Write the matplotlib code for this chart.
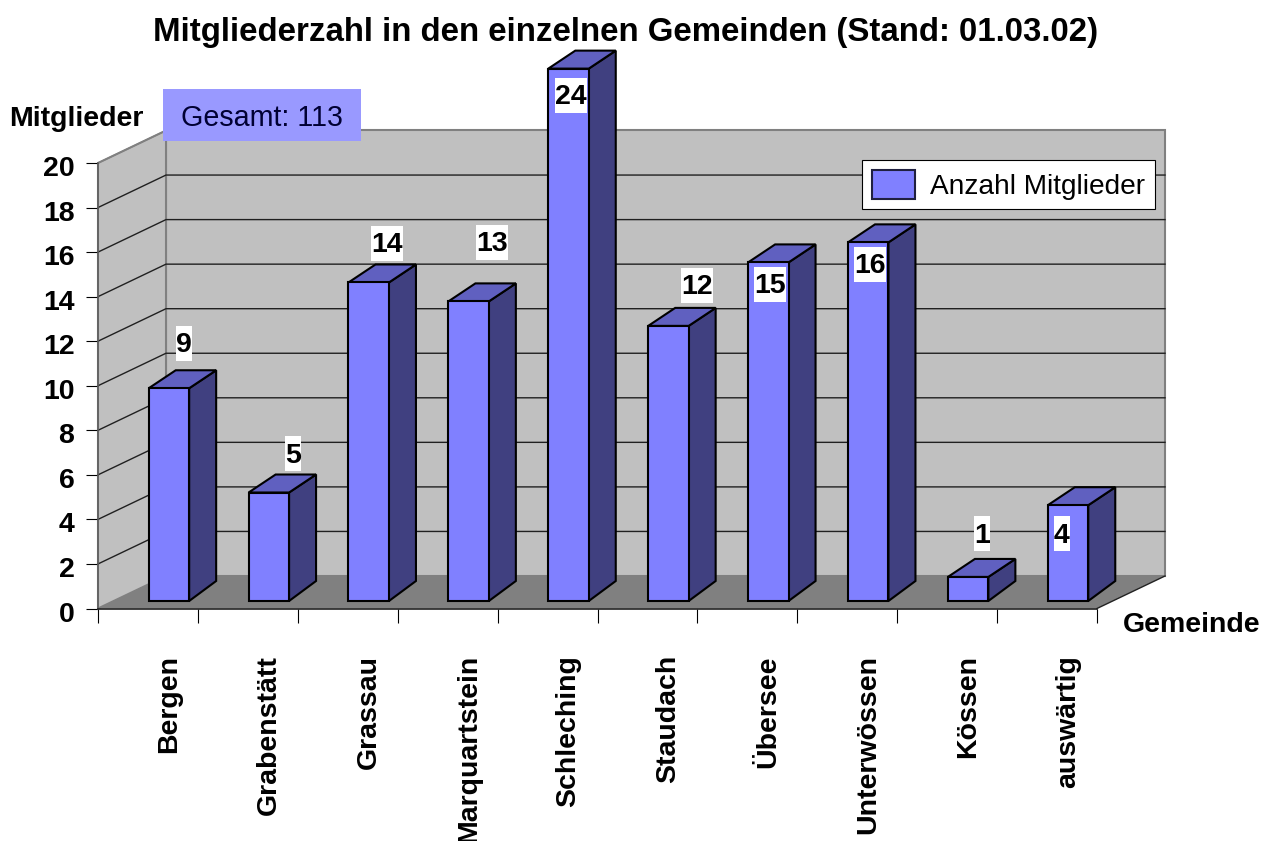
import matplotlib
matplotlib.use("Agg")
import matplotlib.pyplot as plt
from matplotlib.patches import Polygon, Rectangle, Patch
from matplotlib.transforms import Affine2D, ScaledTranslation

plt.rcParams['font.family'] = ['Liberation Sans', 'DejaVu Sans']

# ---- data ----
gemeinden = ["Bergen", "Grabenstätt", "Grassau", "Marquartstein", "Schleching",
             "Staudach", "Übersee", "Unterwössen", "Kössen", "auswärtig"]
value_labels = [9, 5, 14, 13, 24, 12, 15, 16, 1, 4]
# heights as drawn in the picture (read on the y scale)
bar_heights = [9.55, 4.87, 14.3, 13.45, 23.9, 12.35, 15.2, 16.1, 1.08, 4.3]
y_ticks = list(range(0, 21, 2))
title = "Mitgliederzahl in den einzelnen Gemeinden (Stand: 01.03.02)"
total_label = "Gesamt: 113"
series_name = "Anzahl Mitglieder"

# ---- layout ----
W, H = 1264, 841
FS = 20.5
FRONT = '#8080FF'; SIDE = '#404080'; TOP = '#6060C0'
WALL = '#C0C0C0'; FLOOR = '#808080'; BOX = '#9999FF'
fig = plt.figure(figsize=(W/100, H/100), dpi=100, facecolor='white')
ax = fig.add_axes([98/W, 1-608.5/H, 999/W, 445.5/H])
ax.set_xlim(0, 10); ax.set_ylim(0, 20)
ax.patch.set_visible(False)
px = Affine2D().scale(1/W, -1/H).translate(0, 1) + fig.transFigure

DX = 68/99.9; DY = 32.5/22.275   # wall depth in data units
bar_off = 0.71; bar_w = 0.405; bar_base = 0.337
bdx = 27/99.9; bdy_top = 18/22.275; bdy_bot = 20/22.275

# walls and floor
ax.add_patch(Polygon([(DX, DY), (10+DX, DY), (10+DX, 20+DY), (DX, 20+DY)], fc=WALL, ec=FLOOR, lw=1.5, clip_on=False, zorder=1))
ax.add_patch(Polygon([(0, 0), (DX, DY), (DX, 20+DY), (0, 20)], fc=WALL, ec=FLOOR, lw=1.5, clip_on=False, zorder=1))
ax.add_patch(Polygon([(0, 0), (DX, DY), (10+DX, DY), (10, 0)], fc=FLOOR, ec='none', clip_on=False, zorder=1.5))
ax.plot([10, 10+DX], [0, DY], color='#222222', lw=1, clip_on=False, zorder=1.6)
for v in y_ticks[1:-1]:
    ax.plot([0, DX, 10+DX], [v, v+DY, v+DY], color='#202020', lw=1, clip_on=False, zorder=1.2)
ax.plot([0, DX], [20, 20+DY], color=FLOOR, lw=1, clip_on=False, zorder=1.2)

# bars
for i, h in enumerate(bar_heights):
    x0 = i + bar_off - bar_w/2
    x1 = x0 + bar_w
    y0 = bar_base
    y1 = bar_base + h
    z = 3 + i*0.01
    kw = dict(ec='black', lw=1.5, joinstyle='miter', clip_on=False, zorder=z)
    ax.add_patch(Polygon([(x1, y0), (x1+bdx, y0+bdy_bot), (x1+bdx, y1+bdy_top), (x1, y1)], fc=SIDE, **kw))
    ax.add_patch(Polygon([(x0, y1), (x0+bdx, y1+bdy_top), (x1+bdx, y1+bdy_top), (x1, y1)], fc=TOP, **kw))
    ax.add_patch(Rectangle((x0, y0), bar_w, h, fc=FRONT, **kw))

# axes furniture
for s in ('top', 'right'):
    ax.spines[s].set_visible(False)
ax.spines['left'].set_color('#606060'); ax.spines['left'].set_linewidth(1.2); ax.spines['left'].set_zorder(2)
ax.spines['bottom'].set_color('#202020'); ax.spines['bottom'].set_linewidth(1.2); ax.spines['bottom'].set_zorder(2)
ax.set_yticks(y_ticks)
ax.set_xticks(range(0, 11))
ax.set_xticklabels([])
ax.tick_params(axis='y', length=9, width=0.8, color='black', pad=8, labelsize=FS)
ax.tick_params(axis='x', length=10, width=0.8, color='black')
shift = ScaledTranslation(0, -3/100, fig.dpi_scale_trans)
for t in ax.get_yticklabels():
    t.set_fontweight('bold')
    t.set_transform(t.get_transform() + shift)
ax.set_xticks([i + bar_off for i in range(len(gemeinden))], labels=gemeinden, minor=True,
              rotation=90, fontsize=FS, fontweight='bold', va='top', ha='center')
ax.tick_params(axis='x', which='minor', length=0, pad=33.5)

# value labels
label_px = [(184, 343), (293, 454), (387, 243), (492, 242), (571, 95),
            (697, 285), (770, 284), (870, 264), (982, 534), (1062, 534)]
for (lx, ly), v in zip(label_px, value_labels):
    w = 16*len(str(v))
    fig.add_artist(Rectangle((lx-w/2, ly-17.5), w, 35, fc='white', ec='none', transform=px, zorder=5))
    fig.text(lx, ly+2, str(v), transform=px, ha='center', va='center', fontsize=FS, fontweight='bold', zorder=6)

# texts
fig.text(626, 32, title, transform=px, ha='center', va='center', fontsize=23.8, fontweight='bold', zorder=6)
fig.text(76.5, 119, "Mitglieder", transform=px, ha='center', va='center', fontsize=FS, fontweight='bold', zorder=6)
fig.text(1191.5, 625, "Gemeinde", transform=px, ha='center', va='center', fontsize=FS, fontweight='bold', zorder=6)

# total box
fig.add_artist(Rectangle((163, 89), 198, 52, fc=BOX, ec='none', transform=px, zorder=5))
fig.text(262, 118, total_label, transform=px, ha='center', va='center', fontsize=20.6, color='#000033', zorder=6)

# legend
leg = ax.legend(handles=[Patch(fc=FRONT, ec='#202040', lw=1.5, label=series_name)],
                loc='upper right', bbox_to_anchor=(1155/W, 1-160/H), bbox_transform=fig.transFigure,
                fontsize=20.2, frameon=True, fancybox=False, edgecolor='black', framealpha=1,
                borderpad=0.35, handlelength=1.56, handleheight=1.2, handletextpad=0.53, borderaxespad=0)
leg.get_frame().set_linewidth(0.8)
leg.set_zorder(5)

fig.savefig("out.png", dpi=100)
